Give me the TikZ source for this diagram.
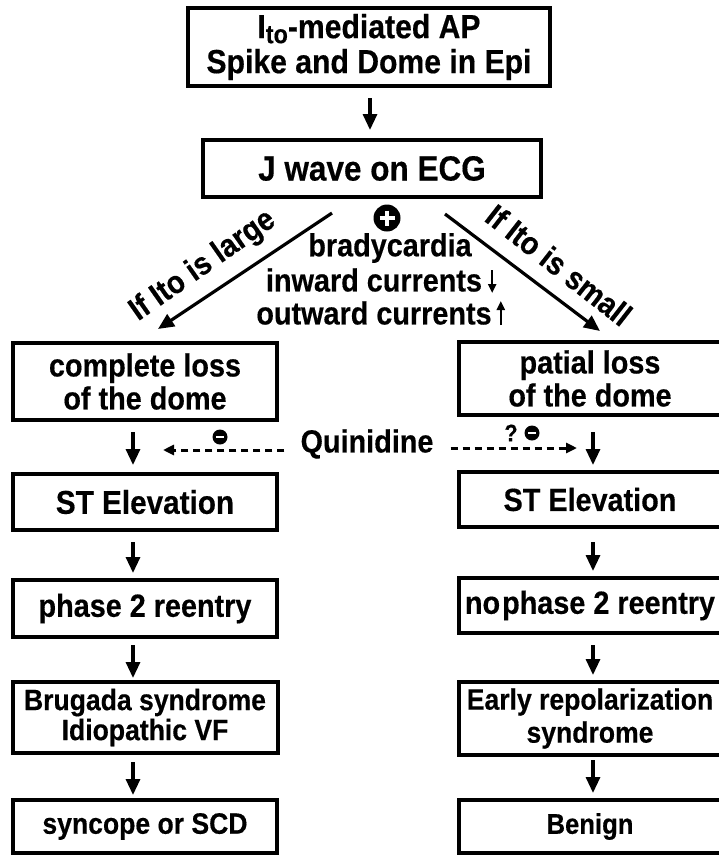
\documentclass[tikz,border=0pt]{standalone}
\usepackage{fontspec}
\setmainfont{Liberation Sans}[FakeStretch=0.9,BoldFeatures={FakeBold=0.4}]
\usetikzlibrary{arrows.meta,calc}
\newcommand{\fsz}[2]{\fontsize{#1}{#2}\selectfont\bfseries}
\begin{document}
\begin{tikzpicture}[x=1pt,y=-1pt,
  box/.style={draw,line width=4pt,rectangle,inner sep=0pt,align=center,font=\fsz{32}{33}},
  arr/.style={line width=3.2pt,-{Triangle[length=16pt,width=14pt]}},
  darr/.style={line width=3pt,dash pattern=on 7pt off 5pt,-{Triangle[length=11pt,width=10pt]}},
  lbl/.style={font=\fsz{32}{33},inner sep=0pt},
  minus/.style={circle,fill=black,minimum size=15pt,inner sep=0pt}]
\useasboundingbox (0,0) rectangle (719,855);
\fill[white] (0,0) rectangle (719,855);
\clip (0,0) rectangle (719,855);

% top
\node[box,minimum width=362pt,minimum height=78pt,font=\fsz{33.5}{35}] (top) at (369,47)
  {I\raisebox{-5pt}{\fsz{26}{26}to}-mediated AP\\Spike and Dome in Epi};
\node[box,minimum width=338pt,minimum height=57pt,font=\fsz{35}{33}] (J) at (372,168.5) {J wave on ECG};
\draw[arr,shorten <=10pt,shorten >=8pt] ([xshift=1pt]top.south) -- ([xshift=1pt]top.south |- J.north);

% left column
\node[box,minimum width=264pt,minimum height=77pt] (L1) at (145,381.5) {complete loss\\of the dome};
\node[box,minimum width=264pt,minimum height=56pt,font=\fsz{33}{33}] (L2) at (145,502) {ST Elevation};
\node[box,minimum width=264pt,minimum height=57pt] (L3) at (145,608.5) {phase 2 reentry};
\node[box,minimum width=265pt,minimum height=71pt,font=\fsz{29.5}{30}] (L4) at (145,717.5) {Brugada syndrome\\Idiopathic VF};
\node[box,minimum width=264pt,minimum height=53pt,font=\fsz{29.5}{30}] (L5) at (145,826.5) {syncope or SCD};

% right column
\node[box,minimum width=262pt,minimum height=73pt] (R1) at (590,378.5) {patial loss\\of the dome};
\node[box,minimum width=262pt,minimum height=55pt] (R2) at (590,499.5) {ST Elevation};
\node[box,minimum width=262pt,minimum height=55pt] (R3) at (590,605.5) {no\hspace{2pt}phase 2 reentry};
\node[box,minimum width=262pt,minimum height=73pt,font=\fsz{29.5}{33}] (R4) at (590,718.5) {Early repolarization\\syndrome};
\node[box,minimum width=262pt,minimum height=53pt,font=\fsz{28.5}{30}] (R5) at (590,826.5) {Benign};

% vertical arrows
\draw[arr,shorten <=10pt,shorten >=7pt] ([xshift=-12pt]L1.south) -- ([xshift=-12pt]L2.north);
\draw[arr,shorten <=10pt,shorten >=5pt] ([xshift=-12pt]L2.south) -- ([xshift=-12pt]L3.north);
\draw[arr,shorten <=6pt,shorten >=2pt] ([xshift=-12pt]L3.south) -- ([xshift=-12pt]L4.north);
\draw[arr,shorten <=7pt,shorten >=3pt] ([xshift=-12pt]L4.south) -- ([xshift=-12pt]L5.north);

\draw[arr,shorten <=15pt,shorten >=5pt] ([xshift=3pt]R1.south) -- ([xshift=3pt]R2.north);
\draw[arr,shorten <=13pt,shorten >=5pt] ([xshift=3pt]R2.south) -- ([xshift=3pt]R3.north);
\draw[arr,shorten <=10pt,shorten >=5pt] ([xshift=3pt]R3.south) -- ([xshift=3pt]R4.north);
\draw[arr,shorten <=3pt,shorten >=5pt] ([xshift=3pt]R4.south) -- ([xshift=3pt]R5.north);

% diagonal arrows
\draw[arr] ($(J.south)+(-40,14)$) -- ($(L1.north)+(13,-12)$);
\draw[arr] ($(J.south)+(73,15)$) -- ($(R1.north)+(10,-9)$);
\node[lbl,rotate=35] (lg) at (203,266) {If Ito is large};
\node[lbl,rotate=-38] (sm) at (559,265) {If Ito is small};

% centre modifiers
\node[circle,fill=black,minimum size=27pt,inner sep=0pt] (plus) at (387,218) {};
\draw[white,line width=4pt] ($(plus.center)+(-7.5,0)$) -- ($(plus.center)+(7.5,0)$);
\draw[white,line width=4pt] ($(plus.center)+(0,-7.5)$) -- ($(plus.center)+(0,7.5)$);
\node[lbl] (brady) at (390,248) {bradycardia};
\node[lbl] (inw) at (374,280) {inward currents};
\node[lbl] (outw) at (374,313) {outward currents};
\draw[line width=2.2pt,-{Triangle[length=9pt,width=8pt]}] ($(inw.east)+(10,-10)$) -- ($(inw.east)+(10,13)$);
\draw[line width=2.2pt,-{Triangle[length=9pt,width=8pt]}] ($(outw.east)+(9,12)$) -- ($(outw.east)+(9,-12)$);

% quinidine
\node[lbl] (quin) at (367,444) {Quinidine};
\coordinate (qL) at (163,450);
\coordinate (qR) at (577,448);
\draw[darr] ($(quin.west)+(-16,6)$) -- (qL);
\draw[darr] ($(quin.east)+(17,4)$) -- (qR);
\node[minus] (m1) at (220,437) {};
\draw[white,line width=2.6pt] ($(m1.center)+(-4,0)$) -- ($(m1.center)+(4,0)$);
\node[minus] (m2) at (532,433) {};
\draw[white,line width=2.6pt] ($(m2.center)+(-4,0)$) -- ($(m2.center)+(4,0)$);
\node[lbl,font=\fsz{24}{24}] (q) at (511,433) {?};
\end{tikzpicture}
\end{document}
